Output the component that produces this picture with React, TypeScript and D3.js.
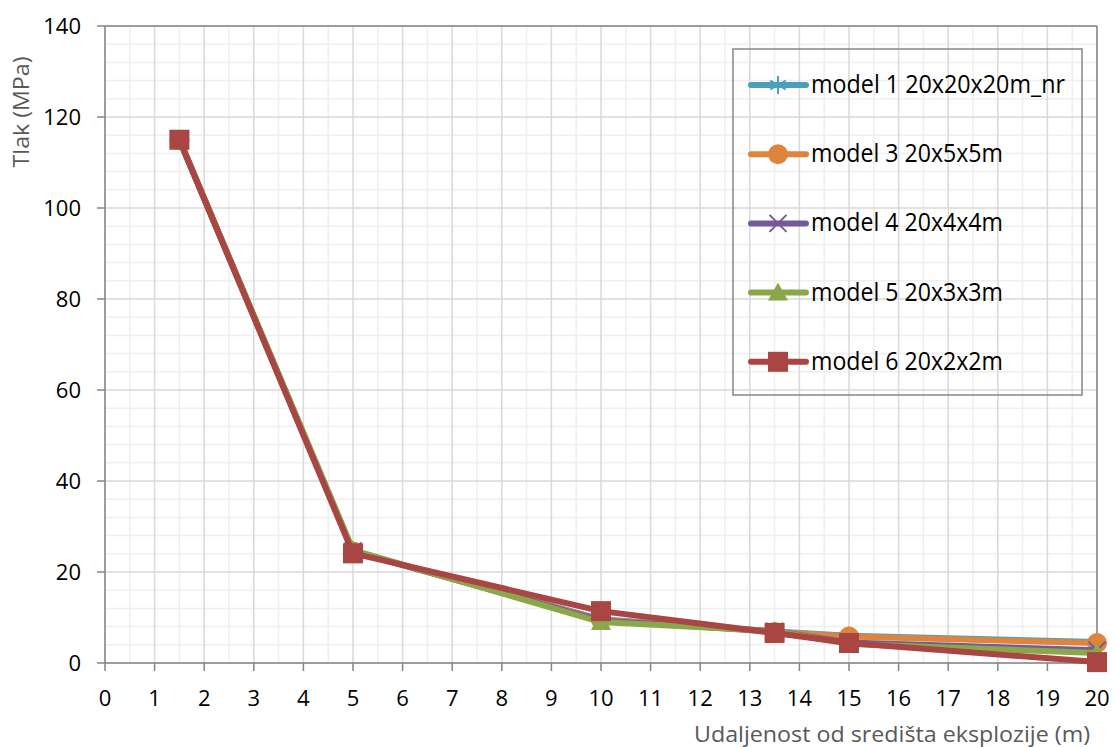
import React from "react";
import * as d3 from "d3";

const xValues = [1.5, 5, 10, 13.5, 15, 20];
const model1 = [115, 24.6, 9.6, 6.9, 6.0, 4.6];
const model3 = [115, 24.5, 9.5, 6.8, 5.8, 4.4];
const model4 = [115, 24.6, 9.3, 7.0, 4.5, 2.8];
const model5 = [115, 24.8, 9.0, 7.0, 4.2, 2.2];
const model6 = [115, 24.1, 11.4, 6.6, 4.4, 0.2];

const seriesNames = [
  "model 1 20x20x20m_nr",
  "model 3 20x5x5m",
  "model 4 20x4x4m",
  "model 5 20x3x3m",
  "model 6 20x2x2m",
];
const seriesValues = [model1, model3, model4, model5, model6];
const seriesColors = ["#4A9FBA", "#DE843C", "#745A96", "#8AA84A", "#A94542"];
const seriesMarkers = ["star", "circle", "x", "triangle", "square"];

const xTicks = d3.range(0, 21, 1);
const yTicks = [0, 20, 40, 60, 80, 100, 120, 140];

const W = 1115;
const H = 747;

function Marker({ type, cx, cy, color }: { type: string; cx: number; cy: number; color: string }) {
  const r = 10;
  if (type === "circle") return <circle cx={cx} cy={cy} r={r} fill={color} />;
  if (type === "square")
    return <rect x={cx - r} y={cy - r} width={2 * r} height={2 * r} fill={color} />;
  if (type === "triangle")
    return (
      <path
        d={`M${cx},${cy - r}L${cx + r},${cy + r * 0.8}L${cx - r},${cy + r * 0.8}Z`}
        fill={color}
      />
    );
  if (type === "x") {
    const s = 8.5;
    return (
      <path
        d={`M${cx - s},${cy - s}L${cx + s},${cy + s}M${cx - s},${cy + s}L${cx + s},${cy - s}`}
        stroke={color}
        strokeWidth={2}
        fill="none"
      />
    );
  }
  const s = 9;
  const dx = s * Math.sin(Math.PI / 3);
  const dy = s * Math.cos(Math.PI / 3);
  return (
    <path
      d={`M${cx},${cy - s}L${cx},${cy + s}M${cx - dx},${cy - dy}L${cx + dx},${cy + dy}M${cx - dx},${cy + dy}L${cx + dx},${cy - dy}`}
      stroke={color}
      strokeWidth={2}
      fill="none"
    />
  );
}

export default function App() {
  const x = d3.scaleLinear().domain([0, 20]).range([105, 1097]);
  const y = d3.scaleLinear().domain([0, 140]).range([663, 26]);
  const line = d3
    .line<number>()
    .x((_, i) => x(xValues[i]))
    .y((v) => y(v));

  const minorX = d3.range(0.5, 20, 1);
  const minorY = d3.range(0, 141, 4).filter((v) => v % 20 !== 0);
  const font = "'Open Sans', 'Liberation Sans', sans-serif";

  const legendTop = 85;
  const legendStep = 69.2;
  const legendWidths = [254, 192, 192, 192, 192];

  return (
    <svg
      width={W}
      height={H}
      style={{ position: "absolute", left: 0, top: 0, background: "#fff" }}
      fontFamily={font}
    >
      <rect x={0} y={0} width={W} height={H} fill="#fff" />
      {minorX.map((v) => (
        <line key={"mx" + v} x1={x(v)} x2={x(v)} y1={y(0)} y2={y(140)} stroke="#EFEFEF" strokeWidth={1.5} />
      ))}
      {minorY.map((v) => (
        <line key={"my" + v} x1={x(0)} x2={x(20)} y1={y(v)} y2={y(v)} stroke="#EFEFEF" strokeWidth={1.5} />
      ))}
      {xTicks.map((v) => (
        <line key={"gx" + v} x1={x(v)} x2={x(v)} y1={y(0)} y2={y(140)} stroke="#D9D9D9" strokeWidth={1.5} />
      ))}
      {yTicks.map((v) => (
        <line key={"gy" + v} x1={x(0)} x2={x(20)} y1={y(v)} y2={y(v)} stroke="#D9D9D9" strokeWidth={1.5} />
      ))}
      <line x1={x(0)} x2={x(20)} y1={y(140)} y2={y(140)} stroke="#868686" strokeWidth={1.5} />
      <line x1={x(20)} x2={x(20)} y1={y(0)} y2={y(140)} stroke="#868686" strokeWidth={1.5} />
      <line x1={x(0)} x2={x(0)} y1={y(0)} y2={y(140)} stroke="#868686" strokeWidth={1.5} />
      <line x1={x(0)} x2={x(20)} y1={y(0)} y2={y(0)} stroke="#868686" strokeWidth={1.5} />
      {yTicks.map((v) => (
        <g key={"yt" + v}>
          <line x1={x(0) - 8} x2={x(0)} y1={y(v)} y2={y(v)} stroke="#868686" strokeWidth={1.5} />
          <text x={81} y={y(v)} dy="0.36em" textAnchor="end" fontSize={22} fill="#000">
            {v}
          </text>
        </g>
      ))}
      {xTicks.map((v) => (
        <g key={"xt" + v}>
          <line x1={x(v)} x2={x(v)} y1={y(0)} y2={y(0) + 8} stroke="#868686" strokeWidth={1.5} />
          <text x={x(v)} y={698} dy="0.36em" textAnchor="middle" fontSize={22} fill="#000">
            {v}
          </text>
        </g>
      ))}
      <text
        transform={`translate(29,112) rotate(-90)`}
        textAnchor="middle"
        fontSize={21}
        fill="#595959"
        textLength={111}
        lengthAdjust="spacingAndGlyphs"
      >
        Tlak (MPa)
      </text>
      <text
        x={694}
        y={742}
        fontSize={21}
        fill="#595959"
        textLength={396}
        lengthAdjust="spacingAndGlyphs"
      >
        Udaljenost od središta eksplozije (m)
      </text>
      {seriesValues.map((vals, si) => (
        <g key={"s" + si}>
          <path d={line(vals) || ""} fill="none" stroke={seriesColors[si]} strokeWidth={6} strokeLinejoin="round" />
          {vals.map((v, i) => (
            <Marker key={i} type={seriesMarkers[si]} cx={x(xValues[i])} cy={y(v)} color={seriesColors[si]} />
          ))}
        </g>
      ))}
      <rect x={733} y={49} width={349} height={346} fill="none" stroke="#868686" strokeWidth={1.5} />
      {seriesNames.map((name, i) => {
        const cy = legendTop + i * legendStep;
        return (
          <g key={"lg" + i}>
            <line x1={751} x2={806} y1={cy} y2={cy} stroke={seriesColors[i]} strokeWidth={6} strokeLinecap="round" />
            <Marker type={seriesMarkers[i]} cx={778} cy={cy} color={seriesColors[i]} />
            <text
              x={811}
              y={cy + 8}
              fontSize={25}
              fill="#000"
              textLength={legendWidths[i]}
              lengthAdjust="spacingAndGlyphs"
            >
              {name}
            </text>
          </g>
        );
      })}
    </svg>
  );
}
